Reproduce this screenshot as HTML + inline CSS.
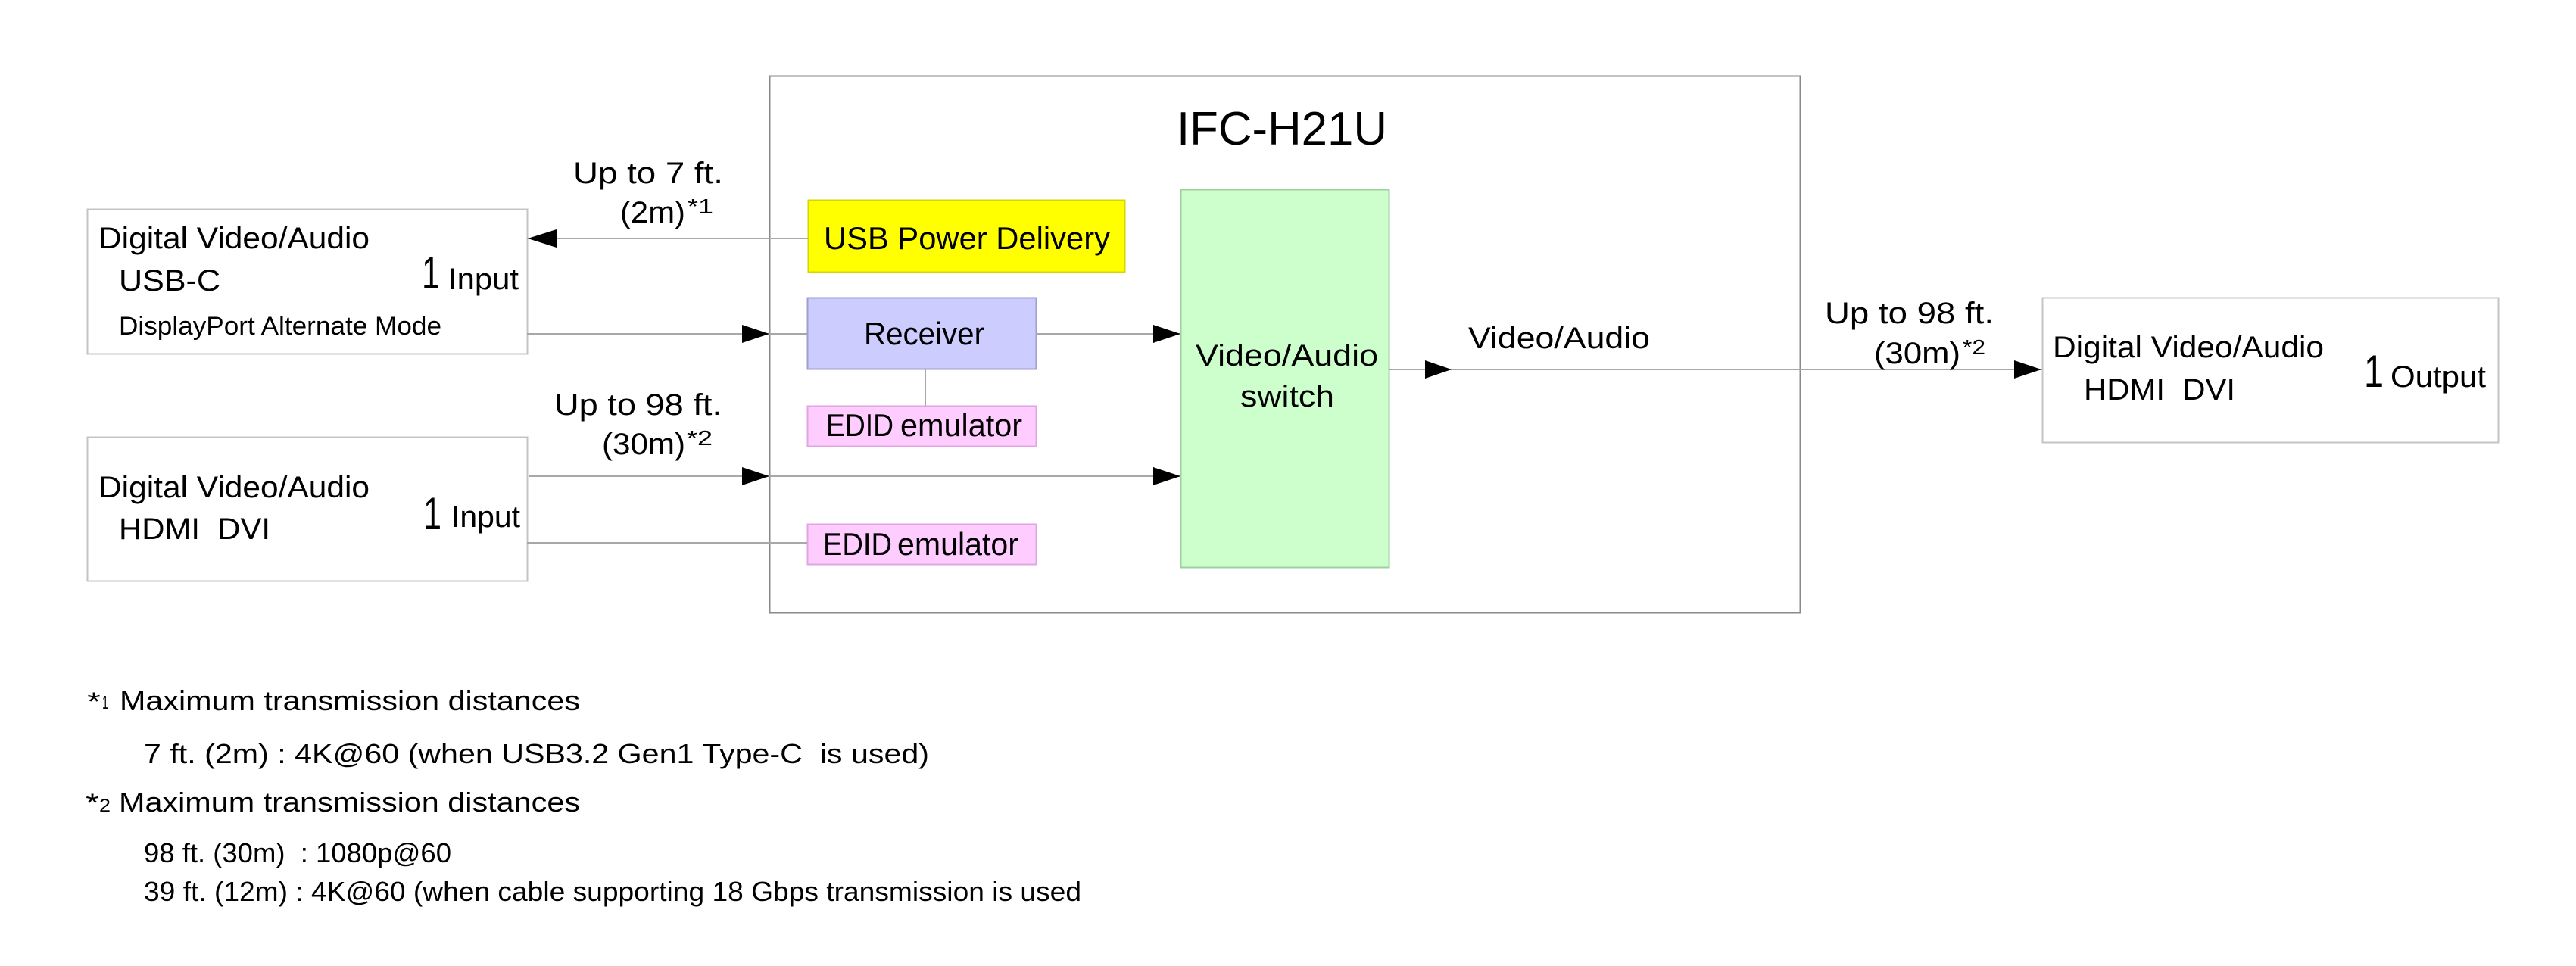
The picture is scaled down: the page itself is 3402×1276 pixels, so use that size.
<!DOCTYPE html>
<html><head><meta charset="utf-8"><style>
html,body{margin:0;padding:0;background:#fff;}
svg{display:block;}
text{font-family:"Liberation Sans","Noto Sans CJK JP",sans-serif;fill:#000;white-space:pre;}
</style></head><body>
<svg width="3402" height="1276" viewBox="0 0 3402 1276" xmlns="http://www.w3.org/2000/svg" xml:space="preserve">
<rect width="3402" height="1276" fill="#fff"/>
<rect x="1016.5" y="100.5" width="1361" height="709" fill="#fff" stroke="#8a8a8a" stroke-width="2"/>
<rect x="115.5" y="276.5" width="581" height="191" fill="#fff" stroke="#c4c4c4" stroke-width="2"/>
<rect x="115.5" y="577.5" width="581" height="190" fill="#fff" stroke="#c4c4c4" stroke-width="2"/>
<rect x="2697.5" y="393.5" width="602" height="191" fill="#fff" stroke="#c4c4c4" stroke-width="2"/>
<rect x="1067.5" y="264.5" width="418" height="95" fill="#ffff00" stroke="#d6d600" stroke-width="2"/>
<rect x="1066.5" y="393.5" width="302" height="94" fill="#ccccff" stroke="#9e9ed0" stroke-width="2"/>
<rect x="1066.5" y="536.5" width="302" height="53" fill="#ffccff" stroke="#e0a6e0" stroke-width="2"/>
<rect x="1066.5" y="692.5" width="302" height="53" fill="#ffccff" stroke="#e0a6e0" stroke-width="2"/>
<rect x="1559.5" y="250.5" width="275" height="499" fill="#ccffcc" stroke="#9fcf9f" stroke-width="2"/>
<g stroke="#a8a8a8" stroke-width="2">
<line x1="696" y1="315" x2="1067" y2="315"/>
<line x1="696" y1="441" x2="1066" y2="441"/>
<line x1="1368" y1="441" x2="1559" y2="441"/>
<line x1="698" y1="629" x2="1559" y2="629"/>
<line x1="696" y1="717" x2="1066" y2="717"/>
<line x1="1222" y1="488" x2="1222" y2="536"/>
<line x1="1834" y1="488" x2="2697" y2="488"/>
</g>
<g fill="#000">
<polygon points="697,315 735,303 735,327"/>
<polygon points="1016,441 980,429 980,453"/>
<polygon points="1559,441 1523,429 1523,453"/>
<polygon points="1016,629 980,617 980,641"/>
<polygon points="1559,629 1523,617 1523,641"/>
<polygon points="1917,488 1882,476 1882,500"/>
<polygon points="2696,488 2660,476 2660,500"/>
</g>
<text x="1554" y="191" font-size="62" textLength="278" lengthAdjust="spacingAndGlyphs">IFC-H21U</text>
<text x="757" y="242" font-size="40" textLength="198" lengthAdjust="spacingAndGlyphs">Up to 7 ft.</text>
<text x="819" y="294" font-size="40" textLength="86" lengthAdjust="spacingAndGlyphs">(2m)</text>
<text x="908" y="282" font-size="28" textLength="34" lengthAdjust="spacingAndGlyphs">*1</text>
<text x="732" y="548" font-size="40" textLength="221" lengthAdjust="spacingAndGlyphs">Up to 98 ft.</text>
<text x="795" y="600" font-size="40" textLength="110" lengthAdjust="spacingAndGlyphs">(30m)</text>
<text x="907" y="588" font-size="28" textLength="34" lengthAdjust="spacingAndGlyphs">*2</text>
<text x="2410" y="427" font-size="40" textLength="223" lengthAdjust="spacingAndGlyphs">Up to 98 ft.</text>
<text x="2475" y="480" font-size="40" textLength="114" lengthAdjust="spacingAndGlyphs">(30m)</text>
<text x="2592" y="468" font-size="28" textLength="30" lengthAdjust="spacingAndGlyphs">*2</text>
<text x="1939" y="460" font-size="40" textLength="240" lengthAdjust="spacingAndGlyphs">Video/Audio</text>
<text x="130" y="328" font-size="40" textLength="358" lengthAdjust="spacingAndGlyphs">Digital Video/Audio</text>
<text x="157" y="384" font-size="40" textLength="134" lengthAdjust="spacingAndGlyphs">USB-C</text>
<text x="157" y="442" font-size="34" textLength="426" lengthAdjust="spacingAndGlyphs">DisplayPort Alternate Mode</text>
<text x="557" y="381" font-size="60" textLength="24" lengthAdjust="spacingAndGlyphs">1</text>
<text x="592" y="382" font-size="40" textLength="93" lengthAdjust="spacingAndGlyphs">Input</text>
<text x="130" y="657" font-size="40" textLength="358" lengthAdjust="spacingAndGlyphs">Digital Video/Audio</text>
<text x="157" y="712" font-size="40" textLength="200" lengthAdjust="spacingAndGlyphs">HDMI  DVI</text>
<text x="559" y="699" font-size="60" textLength="24" lengthAdjust="spacingAndGlyphs">1</text>
<text x="596" y="696" font-size="40" textLength="91" lengthAdjust="spacingAndGlyphs">Input</text>
<text x="2711" y="472" font-size="40" textLength="358" lengthAdjust="spacingAndGlyphs">Digital Video/Audio</text>
<text x="2752" y="528" font-size="40" textLength="200" lengthAdjust="spacingAndGlyphs">HDMI  DVI</text>
<text x="3122" y="511" font-size="60" textLength="26" lengthAdjust="spacingAndGlyphs">1</text>
<text x="3157" y="511" font-size="40" textLength="126" lengthAdjust="spacingAndGlyphs">Output</text>
<text x="1088" y="329" font-size="42" textLength="378" lengthAdjust="spacingAndGlyphs">USB Power Delivery</text>
<text x="1141" y="455" font-size="42" textLength="159" lengthAdjust="spacingAndGlyphs">Receiver</text>
<text x="1091" y="576" font-size="42" textLength="89" lengthAdjust="spacingAndGlyphs">EDID</text>
<text x="1189" y="576" font-size="42" textLength="161" lengthAdjust="spacingAndGlyphs">emulator</text>
<text x="1087" y="733" font-size="42" textLength="91" lengthAdjust="spacingAndGlyphs">EDID</text>
<text x="1185" y="733" font-size="42" textLength="160" lengthAdjust="spacingAndGlyphs">emulator</text>
<text x="1579" y="483" font-size="40" textLength="241" lengthAdjust="spacingAndGlyphs">Video/Audio</text>
<text x="1638" y="537" font-size="40" textLength="124" lengthAdjust="spacingAndGlyphs">switch</text>
<text x="115" y="938" font-size="34" textLength="18" lengthAdjust="spacingAndGlyphs">*</text>
<text x="135" y="936" font-size="24" textLength="8" lengthAdjust="spacingAndGlyphs">1</text>
<text x="158" y="938" font-size="36" textLength="608" lengthAdjust="spacingAndGlyphs">Maximum transmission distances</text>
<text x="190" y="1008" font-size="36" textLength="1037" lengthAdjust="spacingAndGlyphs">7 ft. (2m) : 4K@60 (when USB3.2 Gen1 Type-C  is used)</text>
<text x="113" y="1072" font-size="34" textLength="18" lengthAdjust="spacingAndGlyphs">*</text>
<text x="131" y="1072" font-size="24" textLength="15" lengthAdjust="spacingAndGlyphs">2</text>
<text x="157" y="1072" font-size="36" textLength="609" lengthAdjust="spacingAndGlyphs">Maximum transmission distances</text>
<text x="190" y="1139" font-size="36" textLength="406" lengthAdjust="spacingAndGlyphs">98 ft. (30m)  : 1080p@60</text>
<text x="190" y="1190" font-size="36" textLength="1238" lengthAdjust="spacingAndGlyphs">39 ft. (12m) : 4K@60 (when cable supporting 18 Gbps transmission is used</text>
</svg>
</body></html>
